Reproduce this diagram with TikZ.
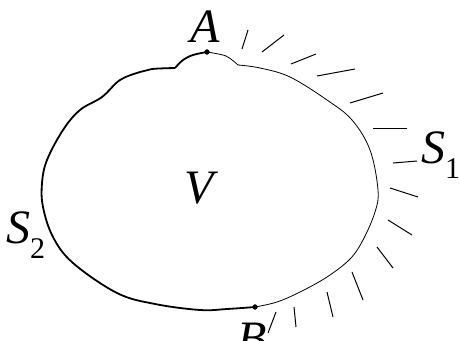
\documentclass[tikz,border=0pt]{standalone}
\usepackage{fontspec}
\setmainfont{Liberation Serif}
\newcommand{\subidx}[1]{\raisebox{-0.32em}{\upshape\fontsize{30}{30}\selectfont #1}}

\begin{document}
\begin{tikzpicture}[x=1pt, y=-1pt,
    every node/.style={font=\fontsize{48}{50}\selectfont\itshape, inner sep=0pt},
    thinedge/.style={line width=0.8pt},
    thickedge/.style={line width=1.8pt},
    hatch/.style={line width=1pt}]
    \useasboundingbox (0,0) rectangle (460,340);

    \coordinate (A) at (207,52);
    \coordinate (B) at (255,307);

    % Поверхность S1 (тонкая линия)
    \draw[thinedge] (A) -- plot[smooth, tension=0.5] coordinates {(207,52) (226,56) (238,65)};
    \draw[thinedge] plot[smooth, tension=0.6] coordinates {(238,65) (260,68) (290,77) (327,100) (352,120)
        (370,150) (378,190) (375,212) (363,240) (350,259) (327,277) (300,292) (277,302) (255,307)};

    % Поверхность S2 (жирная линия)
    \draw[thickedge] plot[smooth, tension=0.6] coordinates {(255,307) (227,309) (200,310) (155,304)
        (117,293) (73,263) (53,237) (43,207) (42,183) (47,160) (63,130) (80,110) (102,97) (120,80)
        (140,72) (152,69) (175,68)};
    \draw[thickedge] plot[smooth, tension=0.6] coordinates {(175,68) (183,60) (193,55) (207,52)};

    \filldraw (A) circle (2.4pt);
    \filldraw (B) circle (2.4pt);

    % Штрихи
    \foreach \xa/\ya/\xb/\yb in {248/30/242/49, 284/35/262/52, 316/54/291/64, 355/69/317/76,
        383/93/350/103, 407/128/373/128, 417/161/393/163, 418/197/390/188, 412/235/388/220,
        393/268/377/247, 363/300/352/272, 333/317/327/292, 296/327/294/307, 268/333/276/312}
        \draw[hatch] (\xa,\ya) -- (\xb,\yb);

    % Подписи
    \node[anchor=base] (labA) at (205,42) {A};
    \node[anchor=base] (labB) at (252,354) {B};
    \node[anchor=base] (labV) at (199,203) {V};
    \node[anchor=base west] (labS1) at (421,163) {S\subidx{1}};
    \node[anchor=base west] (labS2) at (6,243) {S\subidx{2}};
\end{tikzpicture}
\end{document}
